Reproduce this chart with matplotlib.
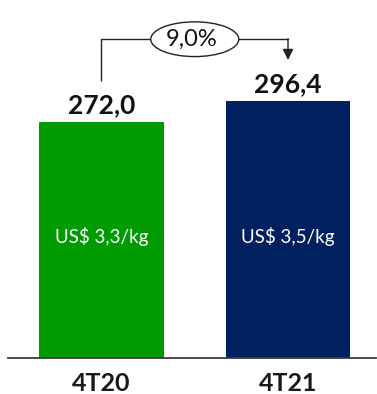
import matplotlib
matplotlib.use("Agg")
import matplotlib.pyplot as plt
from matplotlib.patches import Ellipse

plt.rcParams['font.family'] = ['Lato', 'DejaVu Sans']

categories = ["4T20", "4T21"]
values = [272.0, 296.4]
value_labels = ["272,0", "296,4"]
inner_labels = ["US$ 3,3/kg", "US$ 3,5/kg"]
growth_label = "9,0%"
colors = ["#009B00", "#00205F"]

W, H = 377, 394
fig = plt.figure(figsize=(W / 100, H / 100), dpi=100)
ax = fig.add_axes([8 / W, 36 / H, (376 - 8) / W, (H - 36) / H])

x = list(range(len(categories)))
ax.bar(x, values, width=0.665, color=colors, edgecolor="none", zorder=2)

ax.set_xlim(-0.5013, 1.4718)
ax.set_ylim(0, 412.6)

for s in ["top", "right", "left"]:
    ax.spines[s].set_visible(False)
ax.spines["bottom"].set_color("#3a3a3a")
ax.spines["bottom"].set_linewidth(1.3)
ax.set_yticks([])
ax.set_xticks(x)
ax.set_xticklabels(categories, fontsize=18, fontweight="bold", color="#1a1a1a")
ax.tick_params(axis="x", length=0, pad=10)

for xi, v, lab, inner in zip(x, values, value_labels, inner_labels):
    ax.text(xi, v + 10, lab, ha="center", va="baseline", fontsize=19,
            fontweight="bold", color="#111111")
    ax.text(xi, 140, inner, ha="center", va="center", fontsize=13.5,
            color="white")

# growth bracket
y_line = max(values) + 71
y_start0 = values[0] + 47
y_end1 = values[1] + 47
ex, ew, eh = 0.5, 0.472, 40
ax.plot([x[0], x[0], ex - ew / 2], [y_start0, y_line, y_line],
        color="#222222", lw=1.0, solid_capstyle="butt")
ax.plot([ex + ew / 2, x[1]], [y_line, y_line], color="#222222", lw=1.0)
ax.annotate("", xy=(x[1], y_end1), xytext=(x[1], y_line + 0.5),
            arrowprops=dict(arrowstyle="-|>,head_length=0.65,head_width=0.32",
                            color="#222222", lw=1.0, shrinkA=0, shrinkB=0))
ax.add_patch(Ellipse((ex, y_line), ew, eh, facecolor="white",
                     edgecolor="#222222", lw=1.0, zorder=3))
ax.text(ex - 0.015, y_line, growth_label, ha="center", va="center",
        fontsize=17, color="#111111", zorder=4)

fig.savefig("out.png", dpi=100)
